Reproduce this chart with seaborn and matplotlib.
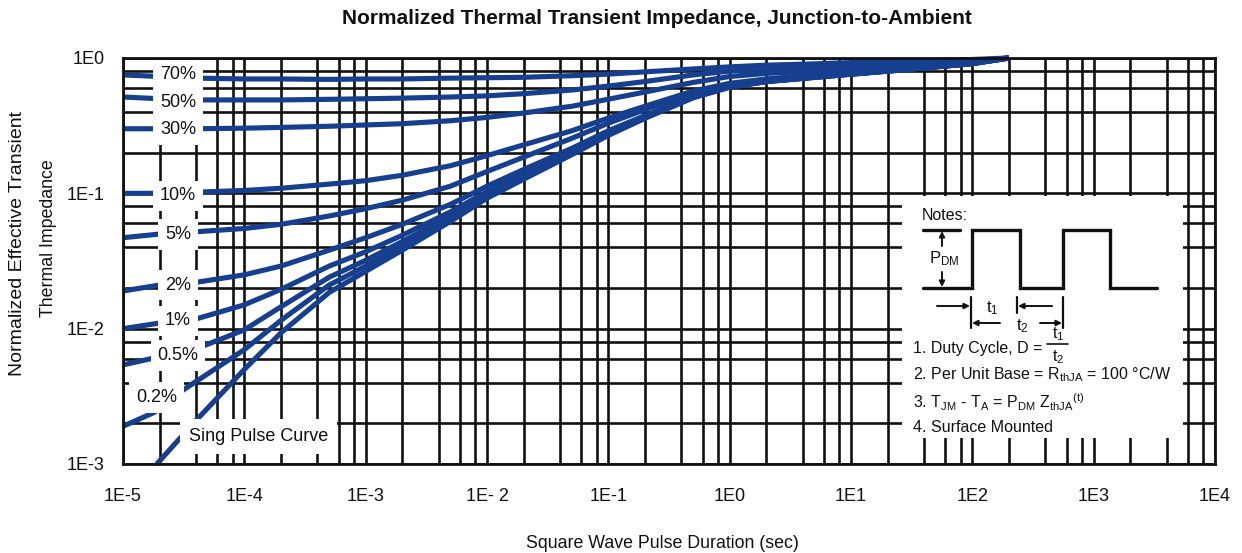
import numpy as np
import pandas as pd
import matplotlib
matplotlib.use("Agg")
import matplotlib.pyplot as plt
import seaborn as sns
from matplotlib.ticker import LogLocator, NullFormatter

# ---------------- data ----------------
t_common = [1e-5, 2e-5, 4e-5, 1e-4, 2e-4, 5e-4, 1e-3, 2e-3, 5e-3, 1e-2, 2e-2, 5e-2,
            1e-1, 2e-1, 5e-1, 1, 2, 5, 10, 20, 50, 100, 200]
z_70 = [0.75, 0.73, 0.71, 0.70, 0.70, 0.695, 0.70, 0.70, 0.71, 0.715, 0.72, 0.74,
        0.76, 0.79, 0.83, 0.86, 0.885, 0.905, 0.925, 0.94, 0.96, 0.975, 1.0]
z_50 = [0.515, 0.50, 0.49, 0.49, 0.49, 0.495, 0.50, 0.505, 0.515, 0.525, 0.545, 0.58,
        0.62, 0.67, 0.75, 0.80, 0.835, 0.86, 0.88, 0.90, 0.93, 0.955, 1.0]
z_30 = [0.30, 0.30, 0.30, 0.303, 0.307, 0.313, 0.32, 0.327, 0.344, 0.364, 0.392, 0.44,
        0.496, 0.56, 0.66, 0.73, 0.77, 0.80, 0.83, 0.86, 0.90, 0.94, 1.0]
z_10 = [0.10, 0.10, 0.102, 0.105, 0.109, 0.117, 0.124, 0.136, 0.16, 0.19, 0.228, 0.29,
        0.36, 0.44, 0.57, 0.65, 0.70, 0.75, 0.785, 0.82, 0.875, 0.92, 1.0]
z_5 = [0.047, 0.050, 0.052, 0.055, 0.059, 0.068, 0.077, 0.089, 0.113, 0.145, 0.185, 0.255,
       0.33, 0.415, 0.55, 0.635, 0.69, 0.74, 0.775, 0.81, 0.87, 0.915, 1.0]
z_2 = [0.019, 0.021, 0.022, 0.025, 0.029, 0.038, 0.047, 0.059, 0.083, 0.113, 0.15, 0.215,
       0.29, 0.375, 0.52, 0.62, 0.675, 0.725, 0.765, 0.805, 0.865, 0.91, 1.0]
z_1 = [0.010, 0.011, 0.0118, 0.015, 0.0195, 0.029, 0.037, 0.049, 0.073, 0.103, 0.14, 0.205,
       0.28, 0.37, 0.515, 0.615, 0.672, 0.722, 0.762, 0.802, 0.862, 0.91, 1.0]
z_05 = [0.0054, 0.0062, 0.0071, 0.0098, 0.0145, 0.024, 0.032, 0.044, 0.068, 0.098, 0.135, 0.20,
        0.275, 0.365, 0.512, 0.612, 0.671, 0.721, 0.761, 0.801, 0.861, 0.91, 1.0]
t_02 = [1e-5, 1.8e-5, 3.1e-5, 1e-4, 2e-4, 5e-4, 1e-3, 2e-3, 5e-3, 1e-2, 2e-2, 5e-2,
        1e-1, 2e-1, 5e-1, 1, 2, 5, 10, 20, 50, 100, 200]
z_02 = [0.0019, 0.0024, 0.0035, 0.0070, 0.0115, 0.021, 0.029, 0.041, 0.065, 0.095, 0.131, 0.197,
        0.272, 0.362, 0.511, 0.611, 0.67, 0.72, 0.76, 0.80, 0.86, 0.91, 1.0]
t_single = [1.9e-5, 4e-5, 1e-4, 2e-4, 5e-4, 1e-3, 2e-3, 5e-3, 1e-2, 2e-2, 5e-2,
            1e-1, 2e-1, 5e-1, 1, 2, 5, 10, 20, 50, 100, 200]
z_single = [0.001, 0.0021, 0.005, 0.0093, 0.0185, 0.0265, 0.038, 0.062, 0.092, 0.127, 0.193,
            0.268, 0.358, 0.508, 0.608, 0.668, 0.718, 0.758, 0.798, 0.858, 0.908, 1.0]

curve_names = ["70%", "50%", "30%", "10%", "5%", "2%", "1%", "0.5%", "0.2%", "Sing Pulse Curve"]
x_tick_values = [1e-5, 1e-4, 1e-3, 1e-2, 1e-1, 1e0, 1e1, 1e2, 1e3, 1e4]
x_tick_labels = ["1E-5", "1E-4", "1E-3", "1E- 2", "1E-1", "1E0", "1E1", "1E2", "1E3", "1E4"]
y_tick_values = [1e-3, 1e-2, 1e-1, 1e0]
y_tick_labels = ["1E-3", "1E-2", "1E-1", "1E0"]

series = [
    ("70%", t_common, z_70), ("50%", t_common, z_50), ("30%", t_common, z_30),
    ("10%", t_common, z_10), ("5%", t_common, z_5), ("2%", t_common, z_2),
    ("1%", t_common, z_1), ("0.5%", t_common, z_05), ("0.2%", t_02, z_02),
    ("Sing Pulse Curve", t_single, z_single),
]
rows = []
for name, ts, zs in series:
    for t, z in zip(ts, zs):
        rows.append({"curve": name, "t": t, "z": z})
df = pd.DataFrame(rows)

# ---------------- style ----------------
sns.set_style("white")
plt.rcParams["font.family"] = ["Liberation Sans", "DejaVu Sans"]
plt.rcParams["mathtext.fontset"] = "custom"
plt.rcParams["mathtext.rm"] = "Liberation Sans"
plt.rcParams["mathtext.it"] = "Liberation Sans"

BLUE = "#173f8f"
K = "#111111"
W, H = 1242, 553
fig = plt.figure(figsize=(W / 100, H / 100), dpi=100)
ax = fig.add_axes([123 / W, (H - 464) / H, (1215 - 123) / W, (464 - 58) / H])

sns.lineplot(data=df, x="t", y="z", hue="curve", hue_order=curve_names,
             palette={n: BLUE for n in curve_names}, estimator=None, sort=False,
             legend=False, linewidth=3.7, ax=ax)
for ln in ax.lines:
    ln.set_clip_on(False)
    ln.set_zorder(3)
    ln.set_solid_capstyle("butt")
    ln.set_solid_joinstyle("round")

ax.set_xscale("log")
ax.set_yscale("log")
ax.set_xlim(1e-5, 1e4)
ax.set_ylim(1e-3, 1e0)
ax.set_xticks(x_tick_values, labels=x_tick_labels)
ax.set_yticks(y_tick_values, labels=y_tick_labels)
ax.xaxis.set_minor_locator(LogLocator(base=10, subs=(2, 4, 6, 8), numticks=30))
ax.yaxis.set_minor_locator(LogLocator(base=10, subs=(2, 4, 6, 8), numticks=30))
ax.xaxis.set_minor_formatter(NullFormatter())
ax.yaxis.set_minor_formatter(NullFormatter())
ax.tick_params(which="both", length=0)
ax.tick_params(axis="x", pad=17, labelsize=13, colors=K)
ax.tick_params(axis="y", pad=13, labelsize=13, colors=K)
ax.grid(which="both", color=K, linewidth=1.9)
ax.set_axisbelow(True)
for s in ax.spines.values():
    s.set_color(K)
    s.set_linewidth(2.0)
    s.set_zorder(4)
ax.set_xlabel("")
ax.set_ylabel("")

# curve labels with white boxes
label_pos = {
    "70%": (2.84e-5, 0.749), "50%": (2.84e-5, 0.473), "30%": (2.84e-5, 0.298),
    "10%": (2.84e-5, 0.0956), "5%": (2.84e-5, 0.0499), "2%": (2.84e-5, 0.021),
    "1%": (2.84e-5, 0.0114), "0.5%": (2.84e-5, 0.0063), "0.2%": (1.9e-5, 0.0031),
}
for name, (x, y) in label_pos.items():
    ax.text(x, y, name, ha="center", va="center", fontsize=13, color=K,
            zorder=5, bbox=dict(facecolor="white", edgecolor="none", pad=5.0))
ax.text(1.3e-4, 0.00159, "Sing Pulse Curve", ha="center", va="center", fontsize=13,
        color=K, zorder=5,
        bbox=dict(facecolor="white", edgecolor="none", boxstyle="square,pad=0.5"))

# titles
fig.text(657 / W, 1 - 18 / H, "Normalized Thermal Transient Impedance, Junction-to-Ambient",
         ha="center", va="center", fontsize=15, fontweight="bold", color=K)
fig.text(662 / W, 1 - 543 / H, "Square Wave Pulse Duration (sec)", ha="center", va="center",
         fontsize=12.8, color=K)
fig.text(18 / W, 1 - 244 / H, "Normalized Effective Transient", ha="center", va="center",
         rotation=90, fontsize=14, color=K)
fig.text(49 / W, 1 - 238 / H, "Thermal Impedance", ha="center", va="center",
         rotation=90, fontsize=12.8, color=K)

# ---------------- notes box ----------------
axn = fig.add_axes([902 / W, (H - 438) / H, (1183 - 902) / W, (438 - 196) / H])
axn.set_facecolor("white")
axn.set_xlim(902, 1183)
axn.set_ylim(438, 196)
axn.set_xticks([])
axn.set_yticks([])
for s in axn.spines.values():
    s.set_visible(False)
axn.plot([923, 972, 972, 1020, 1020, 1063, 1063, 1110, 1110, 1157],
         [288, 288, 230, 230, 288, 288, 230, 230, 288, 288], color=K, lw=2.4,
         solid_joinstyle="miter")
axn.plot([923, 960], [230, 230], color=K, lw=2.4)
ap = dict(arrowstyle="-|>", color=K, lw=1.4, mutation_scale=8, shrinkA=0, shrinkB=0)
axn.annotate("", xy=(942, 231), xytext=(942, 246), arrowprops=ap)
axn.annotate("", xy=(942, 287), xytext=(942, 272), arrowprops=ap)
axn.text(944, 259, r"$\mathregular{P_{DM}}$", ha="center", va="center", fontsize=12, color=K)
axn.text(922, 215, "Notes:", ha="left", va="center", fontsize=11.5, color=K)
for x, y0, y1 in [(971, 297, 328), (1017, 297, 313), (1063, 297, 328)]:
    axn.plot([x, x], [y0, y1], color=K, lw=1.6)
axn.annotate("", xy=(970, 306), xytext=(937, 306), arrowprops=ap)
axn.annotate("", xy=(972, 323), xytext=(1000, 323), arrowprops=ap)
axn.annotate("", xy=(1018, 306), xytext=(1052, 306), arrowprops=ap)
axn.annotate("", xy=(1062, 323), xytext=(1040, 323), arrowprops=ap)
axn.text(992, 308, r"$\mathregular{t_1}$", ha="center", va="center", fontsize=12, color=K)
axn.text(1022, 326, r"$\mathregular{t_2}$", ha="center", va="center", fontsize=12, color=K)
axn.text(913, 348, "1. Duty Cycle, D = ", ha="left", va="center", fontsize=11.5, color=K)
axn.text(1058, 334, r"$\mathregular{t_1}$", ha="center", va="center", fontsize=11.5, color=K)
axn.plot([1047, 1068], [344, 344], color=K, lw=1.2)
axn.text(1058, 357, r"$\mathregular{t_2}$", ha="center", va="center", fontsize=11.5, color=K)
axn.text(913, 375, r"2. Per Unit Base = $\mathregular{R_{thJA}}$ = 100 °C/W", ha="left",
         va="center", fontsize=11.5, color=K)
axn.text(913, 402, r"3. $\mathregular{T_{JM}}$ - $\mathregular{T_A}$ = $\mathregular{P_{DM}\ Z_{thJA}{}^{(t)}}$",
         ha="left", va="center", fontsize=11.5, color=K)
axn.text(913, 428, "4. Surface Mounted", ha="left", va="center", fontsize=11.5, color=K)

fig.savefig("out.png", dpi=100, facecolor="white")
